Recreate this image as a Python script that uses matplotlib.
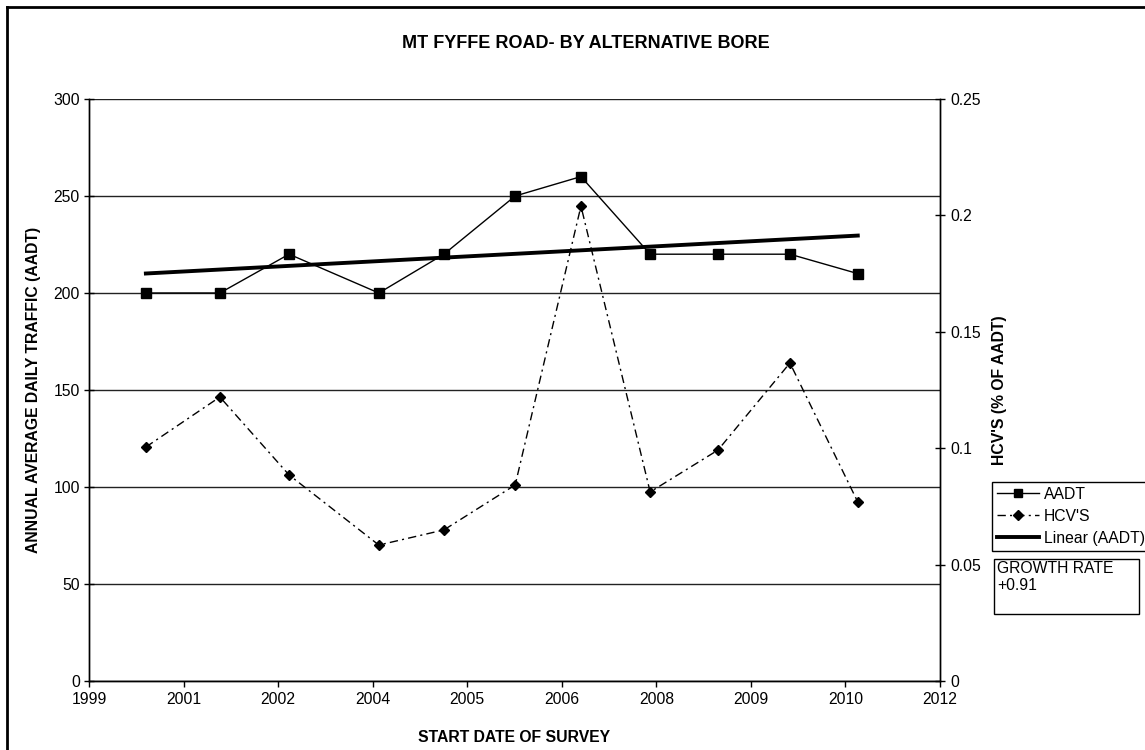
import matplotlib
matplotlib.use("Agg")
import matplotlib.pyplot as plt
from matplotlib.patches import Rectangle
from matplotlib.lines import Line2D
import numpy as np

plt.rcParams['font.family'] = ['Liberation Sans', 'DejaVu Sans']

# survey start dates (decimal years)
survey_date = [2000.73, 2001.81, 2002.82, 2004.13, 2005.08, 2006.12,
               2007.08, 2008.09, 2009.08, 2010.13, 2011.12]
aadt = [200, 200, 220, 200, 220, 250, 260, 220, 220, 220, 210]
hcvs = [0.1005, 0.122, 0.0885, 0.0584, 0.0649, 0.0842,
        0.204, 0.0812, 0.0992, 0.1366, 0.0769]

x_tick_labels = ['1999', '2001', '2002', '2004', '2005', '2006',
                 '2008', '2009', '2010', '2012']
left_ticks = [0, 50, 100, 150, 200, 250, 300]
right_ticks = [0, 0.05, 0.1, 0.15, 0.2, 0.25]
right_tick_labels = ['0', '0.05', '0.1', '0.15', '0.2', '0.25']
growth_rate = '+0.91'

W, H = 1145, 750
FS = 11.3
fig = plt.figure(figsize=(W / 100, H / 100), dpi=100)

# page frame (top and left edges are visible in the crop)
fig.add_artist(Line2D([7 / W, 7 / W], [0, 1 - 7 / H], color='black', lw=2))
fig.add_artist(Line2D([7 / W, 1], [1 - 7 / H, 1 - 7 / H], color='black', lw=2))

ax = fig.add_axes([89 / W, 1 - 681 / H, (940 - 89) / W, (681 - 99) / H])
ax2 = ax.twinx()

# x axis
x0, step = 1999.9, 1.38
xticks = x0 + step * np.arange(len(x_tick_labels))
ax.set_xlim(xticks[0], xticks[-1])
ax.set_xticks(xticks)
ax.set_xticklabels(x_tick_labels, fontsize=FS)
ax.tick_params(axis='x', direction='out', length=4, width=1, pad=4)

# left axis
ax.set_ylim(0, 300)
ax.set_yticks(left_ticks)
ax.tick_params(axis='y', direction='inout', length=7, width=1, labelsize=FS, pad=3)
ax.grid(axis='y', color='#222222', lw=1)
ax.set_axisbelow(True)

# right axis
ax2.set_ylim(0, 0.25)
ax2.set_yticks(right_ticks)
ax2.set_yticklabels(right_tick_labels)
ax2.tick_params(axis='y', direction='inout', length=7, width=1, labelsize=FS, pad=4)

for a in (ax, ax2):
    a.spines['top'].set_visible(False)
    for s in ('left', 'right', 'bottom'):
        a.spines[s].set_linewidth(1)

# data
ax.plot(survey_date, aadt, color='black', lw=1, marker='s', markersize=7,
        label='AADT', zorder=3)
ax2.plot(survey_date, hcvs, color='black', lw=1, marker='D', markersize=5,
         dashes=(6, 3, 1.5, 3), label="HCV'S", zorder=3)

# linear trend of AADT
coef = np.polyfit(survey_date, aadt, 1)
xs = np.array([survey_date[0], survey_date[-1]])
ax.plot(xs, np.polyval(coef, xs), color='black', lw=2.8, label='Linear (AADT)', zorder=4)

# labels
ax.set_xlabel('START DATE OF SURVEY', fontsize=FS, fontweight='bold')
ax.xaxis.set_label_coords(0.5, (681 - 730) / 582)
ax.set_ylabel('ANNUAL AVERAGE DAILY TRAFFIC (AADT)', fontsize=FS, fontweight='bold')
ax.yaxis.set_label_coords((41 - 89) / 851, 0.5)
ax2.set_ylabel("HCV'S (% OF AADT)", fontsize=FS, fontweight='bold')
ax2.yaxis.set_label_coords((992 - 89) / 851, 0.5)

fig.text(586 / W, 1 - 43 / H, 'MT FYFFE ROAD- BY ALTERNATIVE BORE',
         ha='center', va='center', fontsize=13, fontweight='bold')

# legend
handles = [
    Line2D([], [], color='black', lw=1, marker='s', markersize=6),
    Line2D([], [], color='black', lw=1, marker='D', markersize=5, dashes=(6, 3, 1.5, 3)),
    Line2D([], [], color='black', lw=2.8),
]
leg = fig.legend(handles, ['AADT', "HCV'S", 'Linear (AADT)'],
                 loc='upper left', bbox_to_anchor=(992 / W, 1 - 482 / H),
                 fontsize=FS, frameon=True, fancybox=False, framealpha=1,
                 edgecolor='black', borderpad=0.3, handlelength=2.7,
                 handletextpad=0.3, labelspacing=0.45, borderaxespad=0)
leg.get_frame().set_linewidth(1)

# growth rate box
fig.add_artist(Rectangle((994 / W, 1 - 614 / H), (1139 - 994) / W, (614 - 559) / H,
                         transform=fig.transFigure, fill=False, ec='black', lw=1))
fig.text(997 / W, 1 - 561 / H, 'GROWTH RATE\n' + growth_rate,
         ha='left', va='top', fontsize=FS, linespacing=1.15)

fig.savefig('out.png', dpi=100)
